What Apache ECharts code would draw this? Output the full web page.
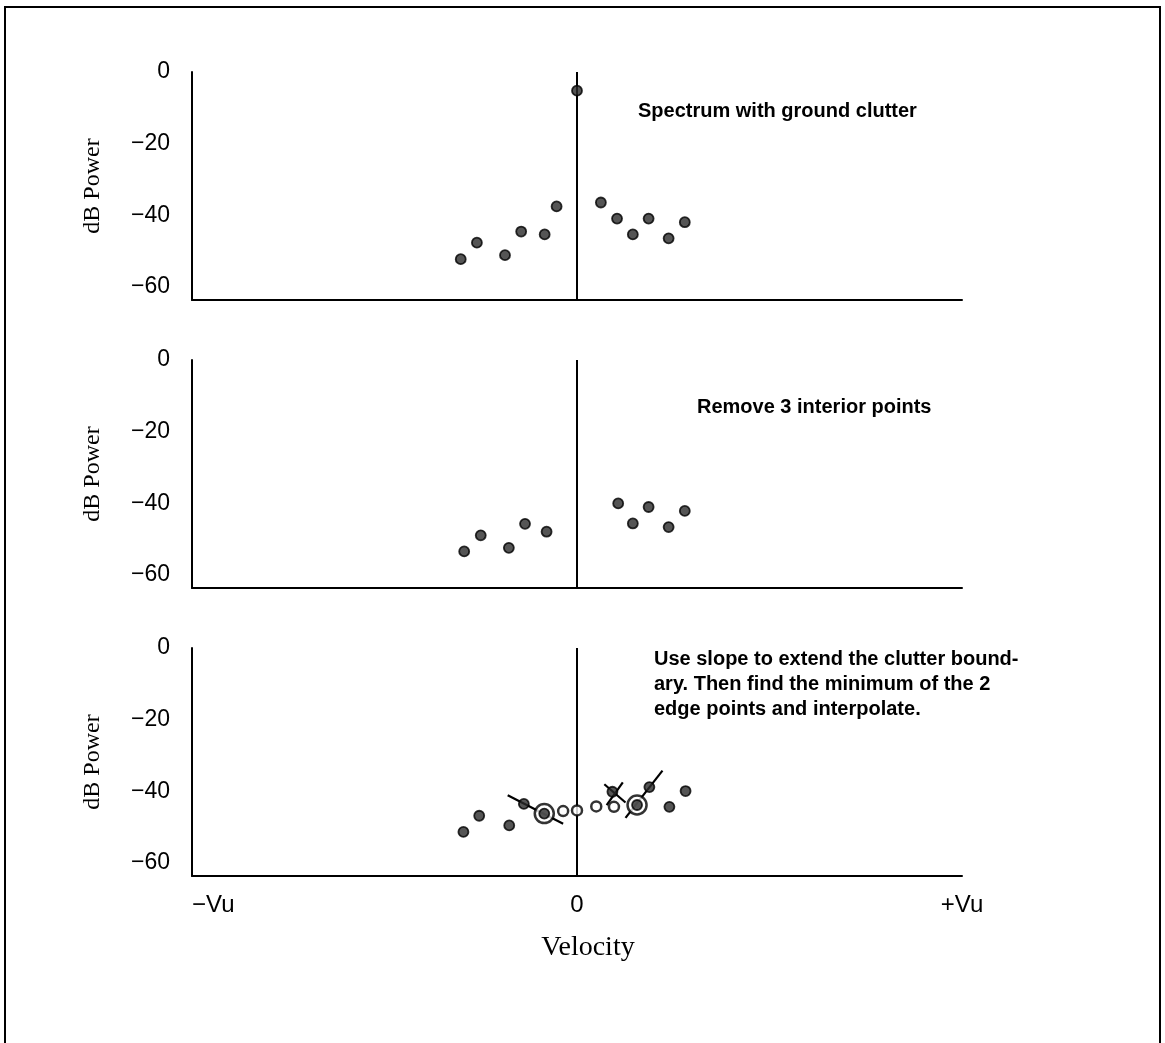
<!DOCTYPE html>
<html>
<head>
<meta charset="utf-8">
<script src="https://cdn.jsdelivr.net/npm/echarts@6/dist/echarts.min.js"></script>
<style>
  html, body { margin: 0; padding: 0; background: #fff; }
  #main { width: 1165px; height: 1043px; }
</style>
</head>
<body>
<div id="main"></div>
<script>
var myChart = echarts.init(document.getElementById('main'));

// tick labels
var yTicks = [0, -20, -40, -60];
var xTicks = [-1, 0, 1];
var xTickNames = ['\u2212Vu', '0', '+Vu'];

// panel 1: spectrum with ground clutter
var p1Vel = [-0.302, -0.260, -0.187, -0.145, -0.084, -0.053, 0.000, 0.062, 0.104, 0.145, 0.186, 0.238, 0.280];
var p1Db  = [-52.2, -47.6, -51.1, -44.5, -45.3, -37.5, -5.2, -36.4, -40.9, -45.3, -40.9, -46.4, -41.9];

// panel 2: interior points removed
var p2Vel = [-0.293, -0.250, -0.177, -0.135, -0.079, 0.107, 0.145, 0.186, 0.238, 0.280];
var p2Db  = [-53.4, -48.9, -52.4, -45.7, -47.9, -40.0, -45.6, -41.0, -46.6, -42.1];

// panel 3: measured points, interpolated points, chosen edge points
var p3Vel = [-0.295, -0.254, -0.176, -0.138, -0.085, 0.092, 0.156, 0.188, 0.240, 0.282];
var p3Db  = [-51.3, -46.8, -49.5, -43.5, -46.2, -40.1, -43.8, -38.8, -44.3, -39.9];
var interpVel = [-0.036, 0.000, 0.050, 0.096];
var interpDb  = [-45.5, -45.3, -44.2, -44.3];
var edgeVel = [-0.085, 0.156];
var edgeDb  = [-46.2, -43.8];
// slope lines and the crossed-out point: [vel1, db1, vel2, db2]
var slopeSegs = [
    [-0.180, -41.1, -0.036, -49.0],
    [0.126, -47.4, 0.222, -34.2],
    [0.071, -38.0, 0.126, -43.1],
    [0.119, -37.5, 0.077, -43.8]
];

function pairs(xs, ys) {
    return xs.map(function (x, i) { return [x, ys[i]]; });
}

var gridTops = [72, 360, 648];
var grids = [], xAxes = [], yAxes = [], series = [];

gridTops.forEach(function (top, i) {
    grids.push({ left: 192, right: 203, top: top, height: 228 });
    var last = i === 2;
    xAxes.push({
        type: 'value', gridIndex: i, min: -1, max: 1,
        axisLine: { onZero: false, lineStyle: { color: '#000', width: 2 } },
        axisTick: { show: false },
        splitLine: { show: false },
        axisLabel: {
            show: last,
            customValues: xTicks,
            alignMinLabel: 'left',
            margin: 17,
            fontFamily: 'Liberation Sans',
            fontSize: 24,
            color: '#000',
            formatter: function (v) { return xTickNames[xTicks.indexOf(v)]; }
        },
        name: last ? 'Velocity' : '',
        nameLocation: 'middle',
        nameGap: 58,
        nameTextStyle: { fontFamily: 'Liberation Serif', fontSize: 28, color: '#000', padding: [0, 0, 0, 22] }
    });
    yAxes.push({
        type: 'value', gridIndex: i, min: -63.6, max: 0,
        axisLine: { show: true, onZero: false, lineStyle: { color: '#000', width: 2 } },
        axisTick: { show: false },
        splitLine: { show: false },
        axisLabel: {
            customValues: yTicks,
            margin: 22,
            fontFamily: 'Liberation Sans',
            fontSize: 23,
            color: '#000',
            formatter: function (v) { return v < 0 ? '\u2212' + Math.abs(v) : String(v); }
        },
        name: 'dB Power',
        nameLocation: 'middle',
        nameGap: 87,
        nameTextStyle: { fontFamily: 'Liberation Serif', fontSize: 24, color: '#000' }
    });
});

var dotStyle = { color: '#2b2b2b', borderColor: '#000', borderWidth: 1.8 };
var zeroLine = {
    silent: true, symbol: 'none', label: { show: false },
    lineStyle: { color: '#000', width: 2, type: 'solid' },
    data: [{ xAxis: 0 }]
};

series.push({ type: 'scatter', xAxisIndex: 0, yAxisIndex: 0, symbolSize: 10, itemStyle: dotStyle, z: 5,
    data: pairs(p1Vel, p1Db), markLine: zeroLine });
series.push({ type: 'scatter', xAxisIndex: 1, yAxisIndex: 1, symbolSize: 10, itemStyle: dotStyle, z: 5,
    data: pairs(p2Vel, p2Db), markLine: zeroLine });

slopeSegs.forEach(function (s) {
    series.push({ type: 'line', xAxisIndex: 2, yAxisIndex: 2, symbol: 'none', z: 2,
        lineStyle: { color: '#000', width: 2.2 },
        data: [[s[0], s[1]], [s[2], s[3]]] });
});
series.push({ type: 'scatter', xAxisIndex: 2, yAxisIndex: 2, symbolSize: 19, z: 3,
    itemStyle: { color: '#fff', borderColor: '#000', borderWidth: 2.5 },
    data: pairs(edgeVel, edgeDb) });
series.push({ type: 'scatter', xAxisIndex: 2, yAxisIndex: 2, symbolSize: 10, itemStyle: dotStyle, z: 5,
    data: pairs(p3Vel, p3Db), markLine: zeroLine });
series.push({ type: 'scatter', xAxisIndex: 2, yAxisIndex: 2, symbolSize: 10, z: 5,
    itemStyle: { color: '#fff', borderColor: '#000', borderWidth: 2.5 },
    data: pairs(interpVel, interpDb) });

var noteFont = 'bold 20px "Liberation Sans"';

option = {
    backgroundColor: '#fff',
    animation: false,
    grid: grids,
    xAxis: xAxes,
    yAxis: yAxes,
    series: series,
    graphic: [
        { type: 'rect', silent: true, shape: { x: 5, y: 7, width: 1155, height: 1060 },
          style: { fill: 'none', stroke: '#000', lineWidth: 2 } },
        { type: 'text', left: 638, top: 101,
          style: { text: 'Spectrum with ground clutter', font: noteFont, fill: '#000' } },
        { type: 'text', left: 697, top: 397,
          style: { text: 'Remove 3 interior points', font: noteFont, fill: '#000' } },
        { type: 'text', left: 654, top: 647,
          style: { text: 'Use slope to extend the clutter bound-\nary. Then find the minimum of the 2\nedge points and interpolate.',
                   font: noteFont, lineHeight: 25, fill: '#000' } }
    ]
};

myChart.setOption(option);
</script>
</body>
</html>
